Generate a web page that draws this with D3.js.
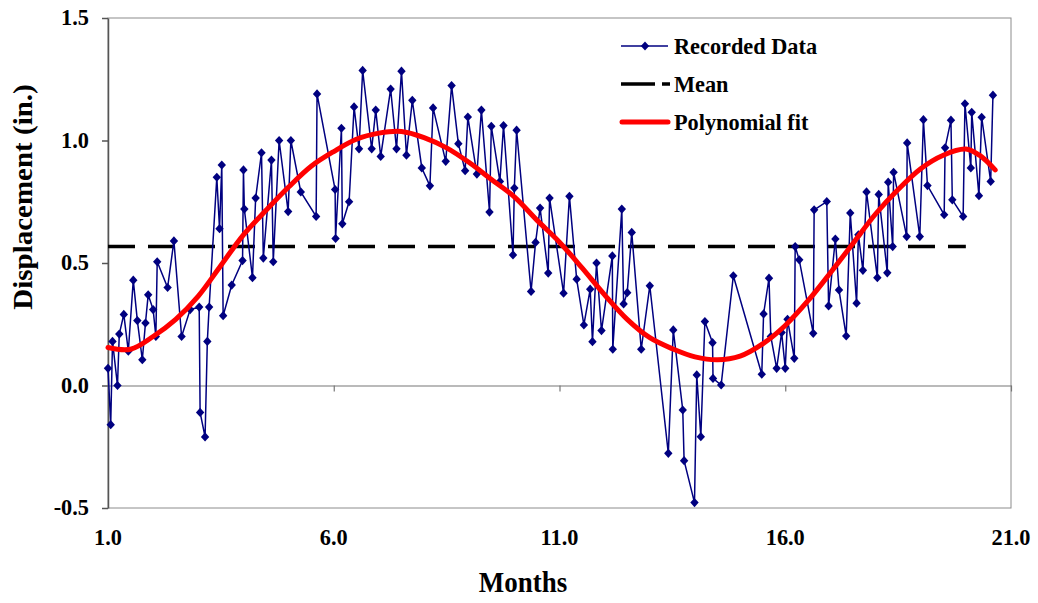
<!DOCTYPE html>
<meta charset="utf-8">
<style>
 body { margin: 0; background: #fff; }
 text { font-family: "Times New Roman", "Liberation Serif", serif; font-weight: bold; fill: #000; }
</style>
<body>
<script src="https://d3js.org/d3.v7.min.js"></script>
<script>
// Recorded data (month, displacement in inches)
var months = [1.00,1.06,1.10,1.21,1.25,1.35,1.45,1.56,1.65,1.76,1.83,1.89,2.00,2.06,2.09,2.32,2.46,2.63,2.82,3.02,
  3.04,3.15,3.20,3.24,3.41,3.47,3.52,3.55,3.74,3.98,4.00,4.02,4.20,4.27,4.40,4.44,4.62,4.66,4.79,4.99,
  5.05,5.27,5.61,5.63,6.03,6.04,6.17,6.19,6.34,6.45,6.56,6.64,6.84,6.93,7.04,7.26,7.39,7.50,7.61,7.74,
  7.95,8.13,8.20,8.48,8.61,8.76,8.91,8.97,9.17,9.27,9.45,9.49,9.68,9.76,9.97,10.00,10.05,10.37,10.47,10.57,
  10.75,10.78,11.09,11.22,11.38,11.54,11.68,11.73,11.82,11.93,12.17,12.18,12.38,12.42,12.50,12.60,12.81,13.00,13.41,13.52,
  13.73,13.76,13.99,14.04,14.13,14.22,14.39,14.40,14.58,14.85,15.48,15.52,15.64,15.68,15.81,15.92,16.00,16.05,16.20,16.22,
  16.31,16.62,16.64,16.92,16.96,17.11,17.19,17.35,17.44,17.58,17.62,17.72,17.80,18.04,18.07,18.26,18.28,18.38,18.40,18.69,
  18.70,18.98,19.06,19.15,19.52,19.54,19.67,19.70,19.94,19.98,20.11,20.13,20.29,20.35,20.55,20.60];
var displacement = [0.07,-0.16,0.18,0.00,0.21,0.29,0.14,0.43,0.265,0.105,0.255,0.37,0.31,0.20,0.505,0.40,0.59,0.20,0.31,0.32,
  -0.11,-0.21,0.18,0.32,0.85,0.64,0.90,0.285,0.41,0.51,0.88,0.72,0.44,0.765,0.95,0.52,0.92,0.505,1.00,0.71,
  1.00,0.79,0.69,1.19,0.80,0.60,1.05,0.66,0.75,1.137,0.966,1.286,0.966,1.124,0.935,1.21,0.966,1.283,0.94,1.164,
  0.888,0.815,1.133,0.915,1.224,0.987,0.877,1.096,0.863,1.124,0.708,1.058,0.833,1.061,0.533,0.806,1.042,0.384,0.584,0.724,
  0.459,0.765,0.377,0.772,0.434,0.247,0.393,0.179,0.50,0.224,0.529,0.148,0.72,0.333,0.379,0.625,0.148,0.407,-0.277,0.227,
  -0.10,-0.307,-0.478,0.043,-0.209,0.261,0.175,0.029,0.002,0.448,0.046,0.292,0.438,0.20,0.07,0.216,0.07,0.27,0.111,0.567,
  0.513,0.213,0.717,0.751,0.325,0.598,0.39,0.202,0.704,0.336,0.615,0.47,0.79,0.44,0.78,0.46,0.83,0.567,0.87,0.608,
  0.99,0.608,1.085,0.816,0.697,0.97,1.083,0.758,0.69,1.15,0.888,1.115,0.775,1.095,0.833,1.185];

// Polynomial fit
var fitMonths = [1.0,1.5,2.0,2.5,3.0,3.5,4.0,4.5,5.0,5.5,6.0,6.5,7.0,7.5,8.0,8.5,9.0,9.5,10.0,10.5,
  11.0,11.5,12.0,12.5,13.0,13.5,14.0,14.5,15.0,15.5,16.0,16.5,17.0,17.5,18.0,18.5,19.0,19.5,20.0,20.3,20.65];
var fitValues = [0.155,0.148,0.20,0.27,0.365,0.49,0.615,0.715,0.81,0.895,0.955,1.005,1.03,1.037,1.012,0.97,0.91,0.84,0.77,0.675,
  0.585,0.48,0.37,0.27,0.195,0.15,0.117,0.105,0.12,0.17,0.245,0.345,0.46,0.58,0.70,0.80,0.885,0.94,0.965,0.94,0.88];

// Mean line
var meanMonths = [1, 20];
var meanValue = 0.567;

var xTicks = [1, 6, 11, 16, 21];
var yTicks = [-0.5, 0, 0.5, 1.0, 1.5];
var legendLabels = ["Recorded Data", "Mean", "Polynomial fit"];

var W = 1038, H = 603;
var plot = { left: 108, right: 1011, top: 18, bottom: 508 };

var svg = d3.select("body").append("svg")
  .attr("width", W).attr("height", H);

var x = d3.scaleLinear().domain([1, 21]).range([plot.left, plot.right]);
var y = d3.scaleLinear().domain([-0.5, 1.5]).range([plot.bottom, plot.top]);

// squeezed bold serif text, like the original
function label(txt, px, py, size, anchor, rot) {
  var g = svg.append("g")
    .attr("transform", "translate(" + px + "," + py + ")" + (rot ? " rotate(" + rot + ")" : ""));
  g.append("text")
    .attr("transform", rot ? "scale(1,0.93)" : "scale(0.93,1)")
    .attr("text-anchor", anchor)
    .style("font-size", size + "px")
    .text(txt);
}

// plot area frame
svg.append("rect")
  .attr("x", plot.left).attr("y", plot.top)
  .attr("width", plot.right - plot.left).attr("height", plot.bottom - plot.top)
  .attr("fill", "none").attr("stroke", "#8c8c8c").attr("stroke-width", 1);

// y axis
var yAxis = svg.append("g")
  .attr("transform", "translate(" + plot.left + ",0)")
  .call(d3.axisLeft(y).tickValues(yTicks).tickSize(6).tickSizeOuter(0).tickFormat(""));
yAxis.selectAll("path, line").attr("stroke", "#555").attr("stroke-width", 1.5);

// x axis sits on zero
var xAxis = svg.append("g")
  .attr("transform", "translate(0," + y(0) + ")")
  .call(d3.axisBottom(x).tickValues(xTicks).tickSize(6).tickSizeOuter(0).tickFormat(""));
xAxis.selectAll("path, line").attr("stroke", "#777").attr("stroke-width", 1.2);

yTicks.forEach(function (v) {
  label(v.toFixed(1), 89, y(v) + 7, 24, "end");
});
xTicks.forEach(function (v) {
  label(v.toFixed(1), x(v), 545, 24, "middle");
});

label("Months", 523, 592, 29, "middle");
label("Displacement (in.)", 32, 197, 29, "middle", -90);

// mean
svg.append("line")
  .attr("x1", x(meanMonths[0])).attr("x2", x(meanMonths[1]))
  .attr("y1", y(meanValue)).attr("y2", y(meanValue))
  .attr("stroke", "#000").attr("stroke-width", 3.5)
  .attr("stroke-dasharray", "27,13");

// recorded data
var data = months.map(function (m, i) { return { m: m, v: displacement[i] }; });
var line = d3.line().x(function (d) { return x(d.m); }).y(function (d) { return y(d.v); });

svg.append("path")
  .datum(data)
  .attr("fill", "none").attr("stroke", "#000080").attr("stroke-width", 1.5)
  .attr("d", line);

var diamond = "M0,-4.6L4.2,0L0,4.6L-4.2,0Z";
svg.selectAll(".pt")
  .data(data)
  .enter().append("path")
  .attr("class", "pt")
  .attr("d", diamond)
  .attr("fill", "#000080")
  .attr("transform", function (d) { return "translate(" + x(d.m) + "," + y(d.v) + ")"; });

// polynomial fit
var fit = fitMonths.map(function (m, i) { return { m: m, v: fitValues[i] }; });
svg.append("path")
  .datum(fit)
  .attr("fill", "none").attr("stroke", "#ff0000").attr("stroke-width", 5)
  .attr("stroke-linecap", "round")
  .attr("d", d3.line().curve(d3.curveCatmullRom)
    .x(function (d) { return x(d.m); }).y(function (d) { return y(d.v); }));

// legend
var lg = svg.append("g");
var ly = [46, 84, 122];
lg.append("line").attr("x1", 621).attr("x2", 668).attr("y1", ly[0]).attr("y2", ly[0])
  .attr("stroke", "#000080").attr("stroke-width", 1.5);
lg.append("path").attr("d", diamond).attr("fill", "#000080")
  .attr("transform", "translate(645," + ly[0] + ")");
lg.append("line").attr("x1", 621).attr("x2", 670).attr("y1", ly[1]).attr("y2", ly[1])
  .attr("stroke", "#000").attr("stroke-width", 3.5).attr("stroke-dasharray", "34,7");
lg.append("line").attr("x1", 622).attr("x2", 668).attr("y1", ly[2]).attr("y2", ly[2])
  .attr("stroke", "#ff0000").attr("stroke-width", 5).attr("stroke-linecap", "round");
legendLabels.forEach(function (t, i) {
  label(t, 674, ly[i] + 8, 24, "start");
});
</script>
</body>
